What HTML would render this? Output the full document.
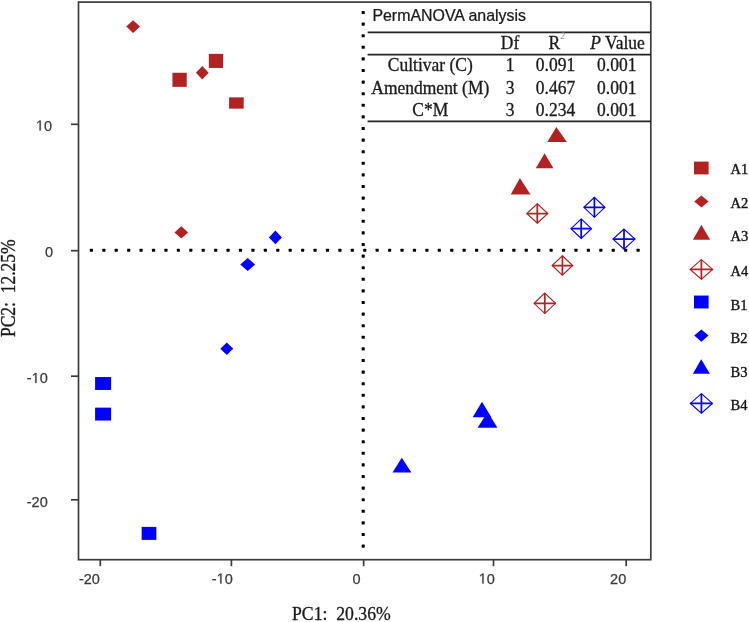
<!DOCTYPE html>
<html><head><meta charset="utf-8"><style>
html,body{margin:0;padding:0;background:#fff;}
svg{display:block;} svg{will-change:transform;}
.tk{font-family:"Liberation Sans",sans-serif;font-size:14.5px;fill:#3a3a3a;stroke:#3a3a3a;stroke-width:0.25px;}
.tkp{fill:#3a3a3a;stroke:#3a3a3a;stroke-width:0.25px;}
.hd{font-family:"Liberation Sans",sans-serif;font-size:15.6px;fill:#1a1a1a;stroke:#1a1a1a;stroke-width:0.25px;}
.tb{font-family:"Liberation Serif",serif;font-size:17.5px;fill:#1a1a1a;stroke:#1a1a1a;stroke-width:0.3px;}
.ax{font-family:"Liberation Serif",serif;font-size:17.7px;fill:#1a1a1a;stroke:#1a1a1a;stroke-width:0.3px;}
.lg{font-family:"Liberation Serif",serif;font-size:14.5px;fill:#111;stroke:#111;stroke-width:0.35px;}
</style></head><body>
<svg width="749" height="622" viewBox="0 0 749 622">
<rect width="749" height="622" fill="#fff"/>
<g fill="#000"><rect x="89.86" y="248.65" width="3.1" height="3.1" rx="0.6"/><rect x="102.28" y="248.65" width="3.1" height="3.1" rx="0.6"/><rect x="114.71" y="248.65" width="3.1" height="3.1" rx="0.6"/><rect x="127.13" y="248.65" width="3.1" height="3.1" rx="0.6"/><rect x="139.56" y="248.65" width="3.1" height="3.1" rx="0.6"/><rect x="151.98" y="248.65" width="3.1" height="3.1" rx="0.6"/><rect x="164.41" y="248.65" width="3.1" height="3.1" rx="0.6"/><rect x="176.83" y="248.65" width="3.1" height="3.1" rx="0.6"/><rect x="189.25" y="248.65" width="3.1" height="3.1" rx="0.6"/><rect x="201.68" y="248.65" width="3.1" height="3.1" rx="0.6"/><rect x="214.11" y="248.65" width="3.1" height="3.1" rx="0.6"/><rect x="226.53" y="248.65" width="3.1" height="3.1" rx="0.6"/><rect x="238.95" y="248.65" width="3.1" height="3.1" rx="0.6"/><rect x="251.38" y="248.65" width="3.1" height="3.1" rx="0.6"/><rect x="263.81" y="248.65" width="3.1" height="3.1" rx="0.6"/><rect x="276.23" y="248.65" width="3.1" height="3.1" rx="0.6"/><rect x="288.66" y="248.65" width="3.1" height="3.1" rx="0.6"/><rect x="301.08" y="248.65" width="3.1" height="3.1" rx="0.6"/><rect x="313.50" y="248.65" width="3.1" height="3.1" rx="0.6"/><rect x="325.93" y="248.65" width="3.1" height="3.1" rx="0.6"/><rect x="338.36" y="248.65" width="3.1" height="3.1" rx="0.6"/><rect x="350.78" y="248.65" width="3.1" height="3.1" rx="0.6"/><rect x="363.21" y="248.65" width="3.1" height="3.1" rx="0.6"/><rect x="375.63" y="248.65" width="3.1" height="3.1" rx="0.6"/><rect x="388.06" y="248.65" width="3.1" height="3.1" rx="0.6"/><rect x="400.48" y="248.65" width="3.1" height="3.1" rx="0.6"/><rect x="412.91" y="248.65" width="3.1" height="3.1" rx="0.6"/><rect x="425.33" y="248.65" width="3.1" height="3.1" rx="0.6"/><rect x="437.76" y="248.65" width="3.1" height="3.1" rx="0.6"/><rect x="450.18" y="248.65" width="3.1" height="3.1" rx="0.6"/><rect x="462.61" y="248.65" width="3.1" height="3.1" rx="0.6"/><rect x="475.03" y="248.65" width="3.1" height="3.1" rx="0.6"/><rect x="487.46" y="248.65" width="3.1" height="3.1" rx="0.6"/><rect x="499.88" y="248.65" width="3.1" height="3.1" rx="0.6"/><rect x="512.31" y="248.65" width="3.1" height="3.1" rx="0.6"/><rect x="524.73" y="248.65" width="3.1" height="3.1" rx="0.6"/><rect x="537.16" y="248.65" width="3.1" height="3.1" rx="0.6"/><rect x="549.58" y="248.65" width="3.1" height="3.1" rx="0.6"/><rect x="562.01" y="248.65" width="3.1" height="3.1" rx="0.6"/><rect x="574.43" y="248.65" width="3.1" height="3.1" rx="0.6"/><rect x="586.86" y="248.65" width="3.1" height="3.1" rx="0.6"/><rect x="599.28" y="248.65" width="3.1" height="3.1" rx="0.6"/><rect x="611.71" y="248.65" width="3.1" height="3.1" rx="0.6"/><rect x="624.13" y="248.65" width="3.1" height="3.1" rx="0.6"/><rect x="636.56" y="248.65" width="3.1" height="3.1" rx="0.6"/><rect x="361.65" y="10.95" width="3.1" height="3.1" rx="0.6"/><rect x="361.65" y="22.55" width="3.1" height="3.1" rx="0.6"/><rect x="361.65" y="34.15" width="3.1" height="3.1" rx="0.6"/><rect x="361.65" y="45.75" width="3.1" height="3.1" rx="0.6"/><rect x="361.65" y="57.35" width="3.1" height="3.1" rx="0.6"/><rect x="361.65" y="68.95" width="3.1" height="3.1" rx="0.6"/><rect x="361.65" y="80.55" width="3.1" height="3.1" rx="0.6"/><rect x="361.65" y="92.15" width="3.1" height="3.1" rx="0.6"/><rect x="361.65" y="103.75" width="3.1" height="3.1" rx="0.6"/><rect x="361.65" y="115.35" width="3.1" height="3.1" rx="0.6"/><rect x="361.65" y="126.95" width="3.1" height="3.1" rx="0.6"/><rect x="361.65" y="138.55" width="3.1" height="3.1" rx="0.6"/><rect x="361.65" y="150.15" width="3.1" height="3.1" rx="0.6"/><rect x="361.65" y="161.75" width="3.1" height="3.1" rx="0.6"/><rect x="361.65" y="173.35" width="3.1" height="3.1" rx="0.6"/><rect x="361.65" y="184.95" width="3.1" height="3.1" rx="0.6"/><rect x="361.65" y="196.55" width="3.1" height="3.1" rx="0.6"/><rect x="361.65" y="208.15" width="3.1" height="3.1" rx="0.6"/><rect x="361.65" y="219.75" width="3.1" height="3.1" rx="0.6"/><rect x="361.65" y="231.35" width="3.1" height="3.1" rx="0.6"/><rect x="361.65" y="242.95" width="3.1" height="3.1" rx="0.6"/><rect x="361.65" y="254.55" width="3.1" height="3.1" rx="0.6"/><rect x="361.65" y="266.15" width="3.1" height="3.1" rx="0.6"/><rect x="361.65" y="277.75" width="3.1" height="3.1" rx="0.6"/><rect x="361.65" y="289.35" width="3.1" height="3.1" rx="0.6"/><rect x="361.65" y="300.95" width="3.1" height="3.1" rx="0.6"/><rect x="361.65" y="312.55" width="3.1" height="3.1" rx="0.6"/><rect x="361.65" y="324.15" width="3.1" height="3.1" rx="0.6"/><rect x="361.65" y="335.75" width="3.1" height="3.1" rx="0.6"/><rect x="361.65" y="347.35" width="3.1" height="3.1" rx="0.6"/><rect x="361.65" y="358.95" width="3.1" height="3.1" rx="0.6"/><rect x="361.65" y="370.55" width="3.1" height="3.1" rx="0.6"/><rect x="361.65" y="382.15" width="3.1" height="3.1" rx="0.6"/><rect x="361.65" y="393.75" width="3.1" height="3.1" rx="0.6"/><rect x="361.65" y="405.35" width="3.1" height="3.1" rx="0.6"/><rect x="361.65" y="416.95" width="3.1" height="3.1" rx="0.6"/><rect x="361.65" y="428.55" width="3.1" height="3.1" rx="0.6"/><rect x="361.65" y="440.15" width="3.1" height="3.1" rx="0.6"/><rect x="361.65" y="451.75" width="3.1" height="3.1" rx="0.6"/><rect x="361.65" y="463.35" width="3.1" height="3.1" rx="0.6"/><rect x="361.65" y="474.95" width="3.1" height="3.1" rx="0.6"/><rect x="361.65" y="486.55" width="3.1" height="3.1" rx="0.6"/><rect x="361.65" y="498.15" width="3.1" height="3.1" rx="0.6"/><rect x="361.65" y="509.75" width="3.1" height="3.1" rx="0.6"/><rect x="361.65" y="521.35" width="3.1" height="3.1" rx="0.6"/><rect x="361.65" y="532.95" width="3.1" height="3.1" rx="0.6"/><rect x="361.65" y="544.55" width="3.1" height="3.1" rx="0.6"/></g>
<rect x="172.45" y="72.75" width="14.30" height="14.10" fill="#B22222"/>
<rect x="208.85" y="53.85" width="14.30" height="14.10" fill="#B22222"/>
<rect x="229.10" y="97.35" width="14.60" height="11.30" fill="#B22222"/>
<path d="M133.10 20.25L140.00 26.60L133.10 32.95L126.20 26.60Z" fill="#B22222"/>
<path d="M202.30 66.10L208.65 72.80L202.30 79.50L195.95 72.80Z" fill="#B22222"/>
<path d="M181.30 226.35L188.15 232.40L181.30 238.45L174.45 232.40Z" fill="#B22222"/>
<path d="M556.30 127.10L566.90 142.10L547.30 142.10Z" fill="#B22222"/>
<path d="M544.60 153.20L553.40 168.20L535.80 168.20Z" fill="#B22222"/>
<path d="M519.90 177.90L530.50 194.60L510.70 194.60Z" fill="#B22222"/>
<path d="M537.30 203.75L547.80 213.50L537.30 223.25L526.80 213.50Z" fill="none" stroke="#B22222" stroke-width="1.15" stroke-linejoin="miter"/><path d="M526.80 213.50H547.80M537.30 203.75V223.25" stroke="#B22222" stroke-width="1.75"/>
<path d="M562.40 255.75L572.65 265.50L562.40 275.25L552.15 265.50Z" fill="none" stroke="#B22222" stroke-width="1.15" stroke-linejoin="miter"/><path d="M552.15 265.50H572.65M562.40 255.75V275.25" stroke="#B22222" stroke-width="1.75"/>
<path d="M544.80 293.05L555.55 303.30L544.80 313.55L534.05 303.30Z" fill="none" stroke="#B22222" stroke-width="1.15" stroke-linejoin="miter"/><path d="M534.05 303.30H555.55M544.80 293.05V313.55" stroke="#B22222" stroke-width="1.75"/>
<rect x="95.10" y="377.05" width="16.00" height="12.90" fill="#0000FF"/>
<rect x="95.10" y="407.65" width="16.00" height="12.90" fill="#0000FF"/>
<rect x="141.65" y="526.90" width="14.70" height="13.00" fill="#0000FF"/>
<path d="M275.40 230.60L281.90 237.40L275.40 244.20L268.90 237.40Z" fill="#0000FF"/>
<path d="M247.70 258.05L255.15 264.50L247.70 270.95L240.25 264.50Z" fill="#0000FF"/>
<path d="M226.80 342.55L233.25 348.80L226.80 355.05L220.35 348.80Z" fill="#0000FF"/>
<path d="M401.80 457.70L411.40 472.60L392.50 472.60Z" fill="#0000FF"/>
<path d="M482.00 401.70L491.30 417.20L472.70 417.20Z" fill="#0000FF"/>
<path d="M487.60 412.10L497.50 427.70L477.60 427.70Z" fill="#0000FF"/>
<path d="M594.40 197.30L604.90 207.30L594.40 217.30L583.90 207.30Z" fill="none" stroke="#0000FF" stroke-width="1.15" stroke-linejoin="miter"/><path d="M583.90 207.30H604.90M594.40 197.30V217.30" stroke="#0000FF" stroke-width="1.75"/>
<path d="M581.20 218.95L591.45 228.70L581.20 238.45L570.95 228.70Z" fill="none" stroke="#0000FF" stroke-width="1.15" stroke-linejoin="miter"/><path d="M570.95 228.70H591.45M581.20 218.95V238.45" stroke="#0000FF" stroke-width="1.75"/>
<path d="M624.00 229.10L635.00 239.10L624.00 249.10L613.00 239.10Z" fill="none" stroke="#0000FF" stroke-width="1.15" stroke-linejoin="miter"/><path d="M613.00 239.10H635.00M624.00 229.10V249.10" stroke="#0000FF" stroke-width="1.75"/>
<rect x="78.5" y="2.1" width="572.3" height="557.6" fill="none" stroke="#3c3c3c" stroke-width="1.7"/>
<line x1="100.3" y1="559.7" x2="100.3" y2="566.2" stroke="#3c3c3c" stroke-width="1.7"/>
<text x="78.95" y="583.6" class="tk">-</text><text x="83.78" y="583.6" class="tk">2</text><text x="91.84" y="583.6" class="tk">0</text>
<line x1="231.4" y1="559.7" x2="231.4" y2="566.2" stroke="#3c3c3c" stroke-width="1.7"/>
<text x="211.75" y="583.6" class="tk">-</text><path d="M220.22 583.60L220.22 574.84Q219.12 575.67 217.97 576.45L217.97 575.25Q219.55 574.33 220.33 573.62L221.50 573.62L221.50 583.60Z" class="tkp"/><text x="224.64" y="583.6" class="tk">0</text>
<line x1="363.6" y1="559.7" x2="363.6" y2="566.2" stroke="#3c3c3c" stroke-width="1.7"/>
<text x="352.54" y="583.6" class="tk">0</text>
<line x1="493.5" y1="559.7" x2="493.5" y2="566.2" stroke="#3c3c3c" stroke-width="1.7"/>
<path d="M482.32 583.60L482.32 574.84Q481.22 575.67 480.07 576.45L480.07 575.25Q481.65 574.33 482.43 573.62L483.60 573.62L483.60 583.60Z" class="tkp"/><text x="486.74" y="583.6" class="tk">0</text>
<line x1="626.2" y1="559.7" x2="626.2" y2="566.2" stroke="#3c3c3c" stroke-width="1.7"/>
<text x="610.08" y="583.6" class="tk">2</text><text x="618.14" y="583.6" class="tk">0</text>
<line x1="71.0" y1="124.3" x2="78.5" y2="124.3" stroke="#3c3c3c" stroke-width="1.7"/>
<path d="M39.52 130.60L39.52 121.84Q38.42 122.67 37.27 123.45L37.27 122.25Q38.85 121.33 39.63 120.62L40.80 120.62L40.80 130.60Z" class="tkp"/><text x="43.94" y="130.6" class="tk">0</text>
<line x1="71.0" y1="250.7" x2="78.5" y2="250.7" stroke="#3c3c3c" stroke-width="1.7"/>
<text x="45.04" y="257.4" class="tk">0</text>
<line x1="71.0" y1="376.2" x2="78.5" y2="376.2" stroke="#3c3c3c" stroke-width="1.7"/>
<text x="26.75" y="383.0" class="tk">-</text><path d="M35.22 383.00L35.22 374.24Q34.12 375.07 32.97 375.85L32.97 374.65Q34.55 373.73 35.33 373.02L36.50 373.02L36.50 383.00Z" class="tkp"/><text x="39.64" y="383.0" class="tk">0</text>
<line x1="71.0" y1="499.8" x2="78.5" y2="499.8" stroke="#3c3c3c" stroke-width="1.7"/>
<text x="26.75" y="506.8" class="tk">-</text><text x="31.58" y="506.8" class="tk">2</text><text x="39.64" y="506.8" class="tk">0</text>
<line x1="367.6" y1="32.4" x2="650.8" y2="32.4" stroke="#222" stroke-width="1.7"/>
<line x1="367.6" y1="54.7" x2="650.8" y2="54.7" stroke="#222" stroke-width="1.7"/>
<line x1="367.6" y1="121.3" x2="650.8" y2="121.3" stroke="#222" stroke-width="1.7"/>
<text transform="translate(372.4,21.1) scale(1.021,1)" class="hd">PermANOVA analysis</text>
<text transform="translate(510.0,48.9) scale(1,1.12)" class="tb" text-anchor="middle">Df</text>
<text transform="translate(548.4,48.9) scale(1,1.12)" class="tb" text-anchor="start">R<tspan font-size="9" dy="-8.5" dx="0.5" fill="#888" stroke="none" font-style="italic">2</tspan></text>
<text transform="translate(590.2,48.9) scale(1,1.12)" class="tb" text-anchor="start"><tspan font-style="italic">P</tspan> Value</text>
<text transform="translate(430.3,70.7) scale(1,1.12)" class="tb" text-anchor="middle">Cultivar (C)</text>
<text transform="translate(510.0,70.7) scale(1,1.12)" class="tb" text-anchor="middle">1</text>
<text transform="translate(555.5,70.7) scale(1,1.12)" class="tb" text-anchor="middle">0.091</text>
<text transform="translate(616.7,70.7) scale(1,1.12)" class="tb" text-anchor="middle">0.001</text>
<text transform="translate(430.3,93.6) scale(1,1.12)" class="tb" text-anchor="middle">Amendment (M)</text>
<text transform="translate(510.0,93.6) scale(1,1.12)" class="tb" text-anchor="middle">3</text>
<text transform="translate(555.5,93.6) scale(1,1.12)" class="tb" text-anchor="middle">0.467</text>
<text transform="translate(616.7,93.6) scale(1,1.12)" class="tb" text-anchor="middle">0.001</text>
<text transform="translate(430.3,115.8) scale(1,1.12)" class="tb" text-anchor="middle">C*M</text>
<text transform="translate(510.0,115.8) scale(1,1.12)" class="tb" text-anchor="middle">3</text>
<text transform="translate(555.5,115.8) scale(1,1.12)" class="tb" text-anchor="middle">0.234</text>
<text transform="translate(616.7,115.8) scale(1,1.12)" class="tb" text-anchor="middle">0.001</text>
<text transform="translate(341.4,620.0) scale(1,1.04)" class="ax" text-anchor="middle">PC1:&#160; 20.36%</text>
<text transform="translate(14.9,288.2) rotate(-90) scale(0.99,1.15)" x="0" y="0" class="ax" text-anchor="middle">PC2:&#160; 12.25%</text>
<rect x="694.00" y="161.60" width="14.60" height="12.80" fill="#B22222"/>
<path d="M701.40 195.45L708.60 201.50L701.40 207.55L694.20 201.50Z" fill="#B22222"/>
<path d="M701.40 224.80L710.10 239.80L692.90 239.80Z" fill="#B22222"/>
<path d="M701.40 259.65L712.65 269.40L701.40 279.15L690.15 269.40Z" fill="none" stroke="#B22222" stroke-width="1.15" stroke-linejoin="miter"/><path d="M690.15 269.40H712.65M701.40 259.65V279.15" stroke="#B22222" stroke-width="1.75"/>
<rect x="694.00" y="295.55" width="14.60" height="12.90" fill="#0000FF"/>
<path d="M701.40 329.55L708.60 335.60L701.40 341.65L694.20 335.60Z" fill="#0000FF"/>
<path d="M701.20 359.30L709.90 373.70L692.90 373.70Z" fill="#0000FF"/>
<path d="M701.40 393.65L712.40 403.40L701.40 413.15L690.40 403.40Z" fill="none" stroke="#0000FF" stroke-width="1.15" stroke-linejoin="miter"/><path d="M690.40 403.40H712.40M701.40 393.65V413.15" stroke="#0000FF" stroke-width="1.75"/>
<text x="730.5" y="174.4" class="lg">A1</text>
<text x="730.5" y="207.6" class="lg">A2</text>
<text x="730.5" y="241.4" class="lg">A3</text>
<text x="730.5" y="276.2" class="lg">A4</text>
<text x="730.5" y="309.8" class="lg">B1</text>
<text x="730.5" y="343.3" class="lg">B2</text>
<text x="730.5" y="377.1" class="lg">B3</text>
<text x="730.5" y="410.2" class="lg">B4</text>
</svg>
</body></html>
